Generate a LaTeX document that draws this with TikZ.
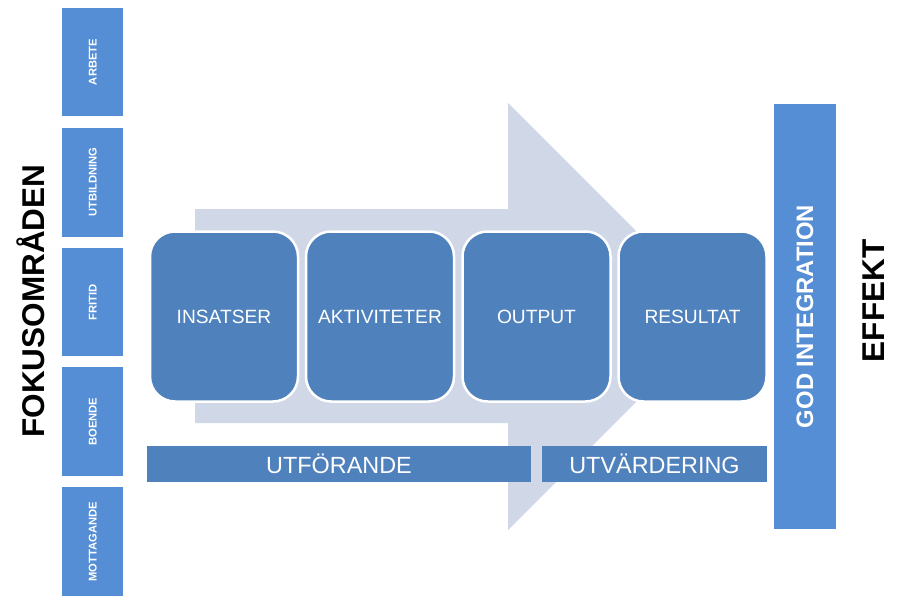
\documentclass[tikz,border=0pt]{standalone}
\usepackage{fontspec}
\setmainfont{Liberation Sans}
\definecolor{darkblue}{HTML}{4F81BD}
\definecolor{lightblue}{HTML}{558ED5}
\definecolor{arrowfill}{HTML}{D0D8E8}
\tikzset{
  focusbox/.style={fill=lightblue, minimum width=61pt, minimum height=108.7pt, inner sep=0pt,
    text=white, font=\fontsize{11.2}{13}\selectfont\bfseries},
  stagebox/.style={fill=darkblue, draw=white, line width=2.5pt, rounded corners=25pt,
    minimum width=148pt, minimum height=170pt, inner sep=0pt, text=white,
    font=\fontsize{19.2}{22}\selectfont},
  phasebar/.style={fill=darkblue, minimum height=36pt, inner sep=0pt, text=white,
    font=\fontsize{23.4}{27}\selectfont},
  sidelabel/.style={text=black, font=\fontsize{31.5}{36}\selectfont\bfseries, inner sep=0pt}
}
\begin{document}
\begin{tikzpicture}[x=1pt,y=-1pt]
\useasboundingbox[fill=white] (0,0) rectangle (897,605);
% big background arrow
\path[fill=arrowfill] (195,209) -- (508,209) -- (508,103) -- (721.5,316.5) -- (508,530) -- (508,423) -- (195,423) -- cycle;
% focus areas
\node[focusbox] (arbete) at (92.75,62) {\rotatebox{90}{ARBETE}};
\node[focusbox] (utb) at (92.75,182.3) {\rotatebox{90}{UTBILDNING}};
\node[focusbox] (fritid) at (92.75,302) {\rotatebox{90}{FRITID}};
\node[focusbox] (boende) at (92.75,421.7) {\rotatebox{90}{BOENDE}};
\node[focusbox] (mott) at (92.75,541.7) {\rotatebox{90}{MOTTAGANDE}};
% stages
\node[stagebox] (insatser) at (224,316.5) {INSATSER};
\node[stagebox] (aktiv) at (380,316.5) {AKTIVITETER};
\node[stagebox] (output) at (536.5,316.5) {OUTPUT};
\node[stagebox] (result) at (692.5,316.5) {RESULTAT};
% phase bars
\node[phasebar, minimum width=384pt] (utfor) at (339,464) {UTFÖRANDE};
\node[phasebar, minimum width=225pt] (utvard) at (654.5,464) {UTVÄRDERING};
% goal bar
\node[fill=lightblue, minimum width=62pt, minimum height=425pt, inner sep=0pt, text=white,
  font=\fontsize{23.8}{27}\selectfont\bfseries] (god) at (805,316.5) {\rotatebox{90}{GOD INTEGRATION}};
% side labels
\node[sidelabel] (fokus) at (31,301) {\rotatebox{90}{FOKUSOMRÅDEN}};
\node[sidelabel] (effekt) at (874,301) {\rotatebox{90}{EFFEKT}};
\end{tikzpicture}
\end{document}
